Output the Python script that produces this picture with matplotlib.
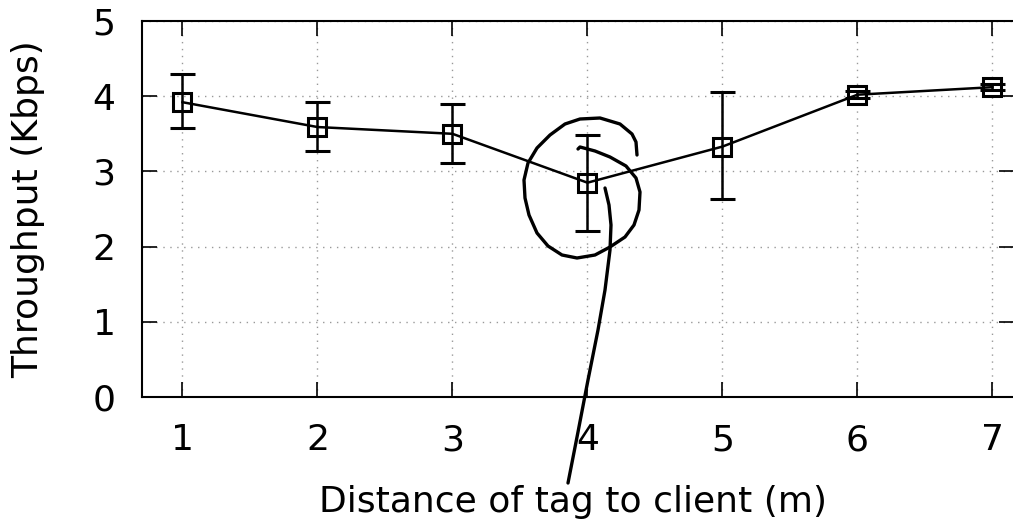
import matplotlib
matplotlib.use("Agg")
import matplotlib.pyplot as plt
import numpy as np

distance = [1, 2, 3, 4, 5, 6, 7]
throughput = [3.92, 3.59, 3.50, 2.85, 3.33, 4.02, 4.12]
err_low = [3.58, 3.27, 3.11, 2.21, 2.63, 3.97, 4.08]
err_high = [4.29, 3.92, 3.90, 3.48, 4.06, 4.07, 4.16]

# hand-drawn scribble on the original, in image pixels (x, y from top)
circle_px = [(637, 155), (636, 142), (632, 134), (620, 124), (600, 118), (580, 119),
             (565, 124), (550, 135), (537, 148), (528, 163), (524, 180), (525, 198),
             (529, 215), (537, 233), (548, 246), (562, 255), (577, 258), (595, 255),
             (610, 247), (625, 237), (634, 225), (639, 210), (640, 192), (636, 178),
             (626, 166), (610, 157), (595, 151), (580, 147), (578, 149)]
stroke_px = [(605, 188), (609, 205), (611, 225), (610, 250), (605, 290), (598, 330),
             (588, 380), (578, 432), (568, 483)]

W, H = 1013, 530
plt.rcParams['font.family'] = 'DejaVu Sans'
fig = plt.figure(figsize=(W / 100, H / 100), dpi=100)
ax = fig.add_axes([142 / W, (H - 397) / H, 1 - 142 / W + 0.001, (397 - 21) / H])

yerr = [np.array(throughput) - np.array(err_low), np.array(err_high) - np.array(throughput)]
ax.errorbar(distance, throughput, yerr=yerr, color='black', lw=1.8, elinewidth=1.8,
            capsize=9, capthick=1.8, marker='s', markersize=13, markerfacecolor='none',
            markeredgewidth=2.2, zorder=3)

ax.set_xlim(0.7, 7.16)
ax.set_ylim(0, 5)
ax.set_xticks(distance)
ax.set_yticks(range(6))
ax.tick_params(direction='in', length=11, width=1.2, labelsize=26, top=True, right=True)
ax.tick_params(axis='x', pad=19)
ax.tick_params(axis='y', pad=19)
ax.grid(True, ls=(0, (1, 4)), color='#999999', lw=1)
for s in ax.spines.values():
    s.set_linewidth(1.5)
ax.set_xlabel('Distance of tag to client (m)', fontsize=26)
ax.set_ylabel('Throughput (Kbps)', fontsize=26)
ax.xaxis.set_label_coords(0.494, -0.235)
ax.yaxis.set_label_coords(-0.111, 0.5)

for pts in (circle_px, stroke_px):
    xs = [p[0] / W for p in pts]
    ys = [1 - p[1] / H for p in pts]
    fig.add_artist(plt.Line2D(xs, ys, transform=fig.transFigure, color='black',
                              lw=2.4, solid_capstyle='round', solid_joinstyle='round'))

fig.savefig('out.png', dpi=100)
